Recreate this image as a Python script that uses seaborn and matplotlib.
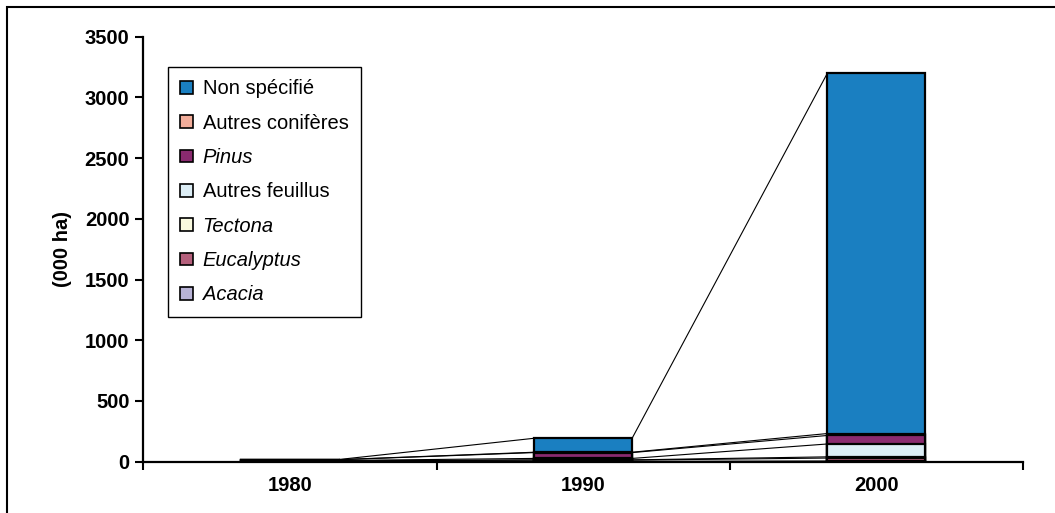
import numpy as np
import pandas as pd
import matplotlib
matplotlib.use("Agg")
import matplotlib.pyplot as plt
import seaborn as sns
from matplotlib.patches import Patch, Rectangle

# ---- data (000 ha) ----
years = ["1980", "1990", "2000"]
series = ["Acacia", "Eucalyptus", "Tectona", "Autres feuillus", "Pinus",
          "Autres conifères", "Non spécifié"]
acacia = [1, 3, 6]
eucalyptus = [4, 10, 24]
tectona = [1, 2, 10]
autres_feuillus = [4, 12, 106]
pinus = [6, 48, 70]
autres_coniferes = [1, 3, 16]
non_specifie = [1, 115, 2968]
yticks = [0, 500, 1000, 1500, 2000, 2500, 3000, 3500]

colors = ["#b8b3d6", "#b5607c", "#fafadf", "#dcedf5", "#8a2a6f", "#f2ad9a", "#1a7fc1"]
italic_series = {"Acacia", "Eucalyptus", "Tectona", "Pinus"}

sns.set_theme(style="white")
plt.rcParams["font.family"] = ["Liberation Sans", "DejaVu Sans"]
plt.rcParams["text.color"] = "black"
plt.rcParams["axes.labelcolor"] = "black"
plt.rcParams["xtick.color"] = "black"
plt.rcParams["ytick.color"] = "black"

W, H = 1055, 513
fig = plt.figure(figsize=(W / 100, H / 100), dpi=100)
ax_l, ax_r, ax_t, ax_b = 143.3, 1023, 36.7, 461.7
ax = fig.add_axes([ax_l / W, 1 - ax_b / H, (ax_r - ax_l) / W, (ax_b - ax_t) / H])

values = np.array([acacia, eucalyptus, tectona, autres_feuillus, pinus,
                   autres_coniferes, non_specifie], dtype=float)
stack = np.cumsum(values, axis=0)
bar_w = 0.334

for i in reversed(range(len(series))):
    df = pd.DataFrame({"year": years, "value": stack[i]})
    sns.barplot(data=df, x="year", y="value", order=years, color=colors[i],
                saturation=1, width=bar_w, edgecolor="black", linewidth=1.6,
                errorbar=None, ax=ax, zorder=2)

# series lines between bars
for i in range(len(series)):
    for j in range(len(years) - 1):
        ax.plot([j + bar_w / 2, j + 1 - bar_w / 2], [stack[i][j], stack[i][j + 1]],
                color="black", lw=0.8, zorder=1)

ax.set_xlim(-0.5, 2.5)
ax.set_ylim(0, 3500)
ax.set_yticks(yticks)
ax.set_xticks(range(len(years)))
ax.set_xticklabels(years)
ax.set_xticks([-0.5, 0.5, 1.5, 2.5], minor=True)
ax.set_xlabel("")
ax.set_ylabel("(000 ha)", fontsize=14.5, fontweight="bold", color="black")
ax.yaxis.set_label_coords((72 - ax_l) / (ax_r - ax_l), 0.5)

ax.tick_params(axis="y", left=True, direction="out", length=6, width=1.5,
               labelsize=14.5, pad=4, colors="black")
ax.tick_params(axis="x", which="major", bottom=True, length=0, labelsize=14.5, pad=10,
               colors="black")
ax.tick_params(axis="x", which="minor", bottom=True, direction="out", length=6, width=1.5,
               colors="black")
for lab in ax.get_xticklabels() + ax.get_yticklabels():
    lab.set_fontweight("bold")

for s in ["top", "right"]:
    ax.spines[s].set_visible(False)
for s in ["left", "bottom"]:
    ax.spines[s].set_color("black")
    ax.spines[s].set_linewidth(1.6)
ax.set_facecolor("white")

# legend
handles = [Patch(facecolor=colors[i], edgecolor="black", lw=1.2) for i in reversed(range(len(series)))]
labels = [series[i] for i in reversed(range(len(series)))]
leg = ax.legend(handles, labels, loc="upper left",
                bbox_to_anchor=(168 / W, 1 - 67 / H), bbox_transform=fig.transFigure,
                borderaxespad=0, frameon=True, fancybox=False, edgecolor="black",
                framealpha=1, fontsize=14.5, labelspacing=0.76, handlelength=0.6,
                handleheight=0.6, handletextpad=0.5, borderpad=0.62)
leg.get_frame().set_linewidth(1)
for t in leg.get_texts():
    t.set_color("black")
    if t.get_text() in italic_series:
        t.set_fontstyle("italic")

# outer chart border
fig.patches.append(Rectangle((7 / W, -0.2), 1.2, 0.2 + 1 - 7 / H, transform=fig.transFigure,
                             fill=False, edgecolor="black", lw=1.5))

fig.savefig("out.png", dpi=100)
